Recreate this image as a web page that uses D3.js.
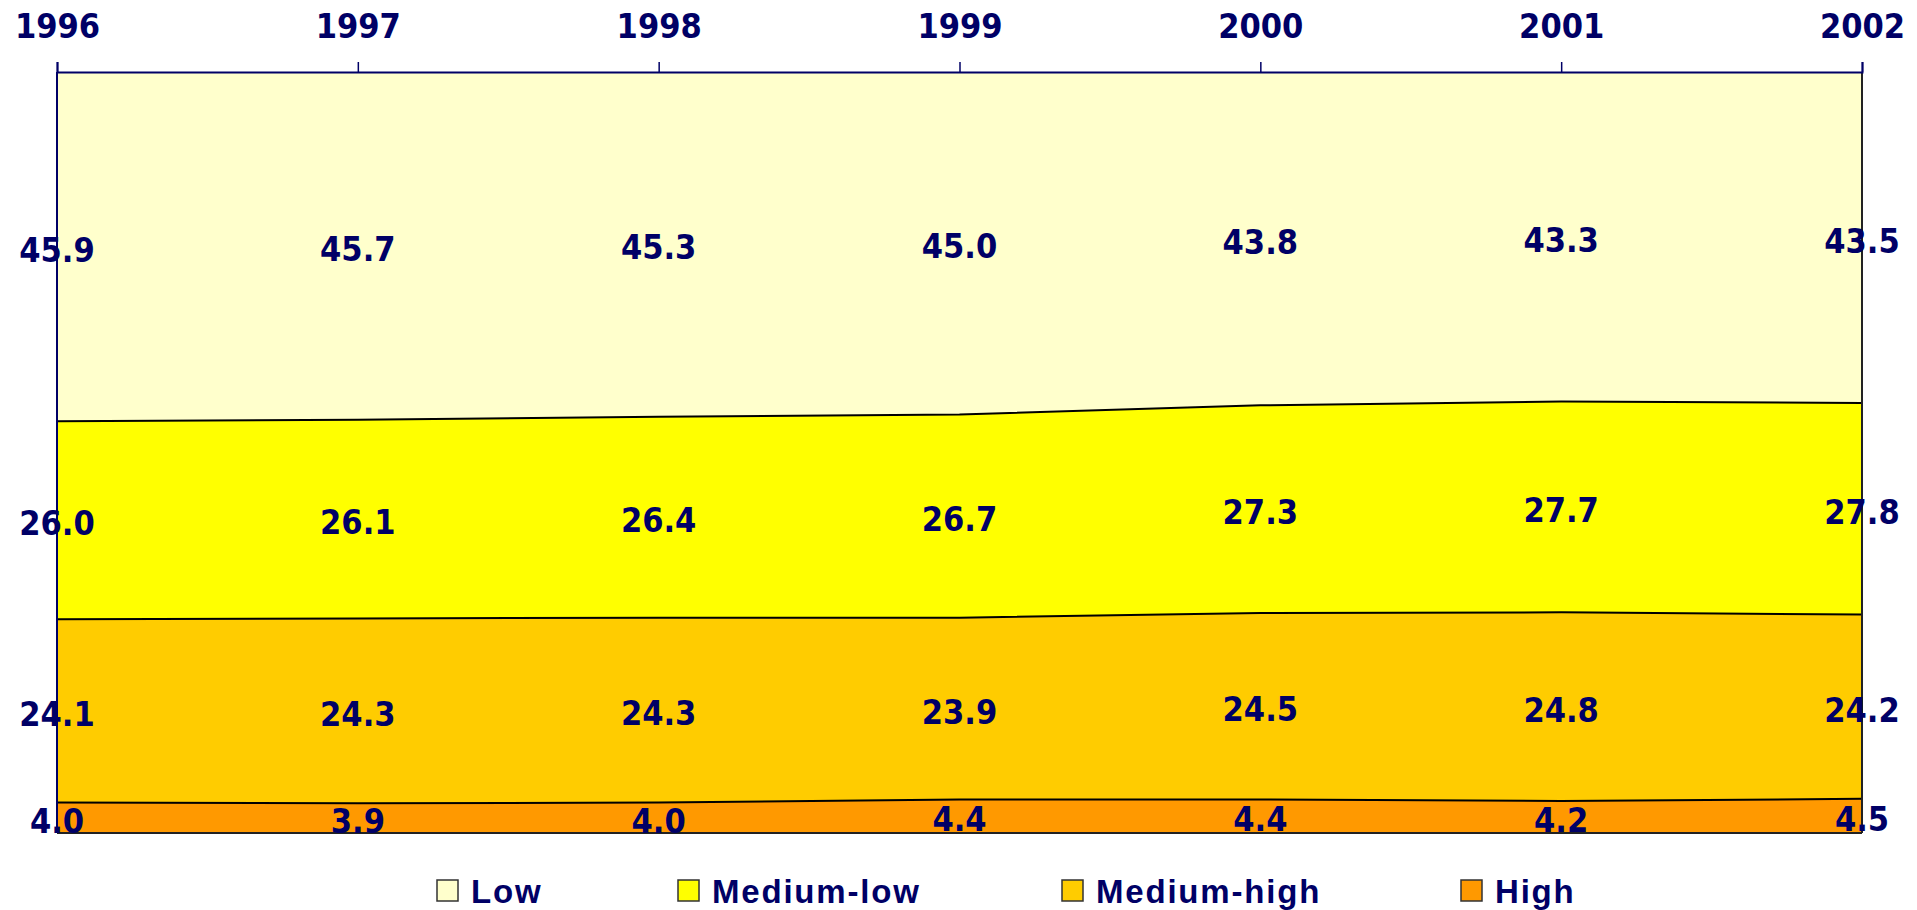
<!DOCTYPE html>
<html>
<head>
<meta charset="utf-8">
<script src="https://cdn.jsdelivr.net/npm/d3@7"></script>
<style>
  html, body { margin: 0; padding: 0; background: #fff; }
  svg { display: block; }
  .num { font-family: "DejaVu Sans Condensed", "DejaVu Sans", sans-serif; font-stretch: condensed; font-weight: bold; font-size: 34px; fill: #000066; }
  .leg { font-family: "Liberation Sans", Arial, sans-serif; font-weight: bold; font-size: 33px; letter-spacing: 1.8px; fill: #000066; }
</style>
</head>
<body>
<script>
// Shares by technology intensity, 1996-2002 (percent)
const years = [1996, 1997, 1998, 1999, 2000, 2001, 2002];
const low        = [45.9, 45.7, 45.3, 45.0, 43.8, 43.3, 43.5];
const mediumLow  = [26.0, 26.1, 26.4, 26.7, 27.3, 27.7, 27.8];
const mediumHigh = [24.1, 24.3, 24.3, 23.9, 24.5, 24.8, 24.2];
const high       = [4.0, 3.9, 4.0, 4.4, 4.4, 4.2, 4.5];

const seriesNames  = ["High", "Medium-high", "Medium-low", "Low"];   // stacking order, bottom to top
const seriesColors = ["#FF9900", "#FFCC00", "#FFFF00", "#FFFFCC"];
const legendOrder  = ["Low", "Medium-low", "Medium-high", "High"];

const W = 1917, H = 910;
const plotLeft = 57, plotRight = 1862, plotTop = 72, plotBottom = 833;

const rows = years.map((yr, i) => ({
  year: yr,
  "High": high[i],
  "Medium-high": mediumHigh[i],
  "Medium-low": mediumLow[i],
  "Low": low[i]
}));

const svg = d3.select("body").append("svg").attr("width", W).attr("height", H);

const x = d3.scaleLinear().domain([years[0], years[years.length - 1]]).range([plotLeft, plotRight]);
const y = d3.scaleLinear().domain([0, 100]).range([plotBottom, plotTop]);
const color = d3.scaleOrdinal(seriesNames, seriesColors);

const stacked = d3.stack().keys(seriesNames)(rows);

// filled bands
const area = d3.area()
  .x(d => x(d.data.year))
  .y0(d => y(d[0]))
  .y1(d => y(d[1]));

svg.append("g").selectAll("path")
  .data(stacked)
  .join("path")
  .attr("d", area)
  .attr("fill", d => color(d.key));

// boundary lines between bands
const edge = d3.line().x(d => x(d.data.year)).y(d => y(d[1]));
svg.append("g").selectAll("path")
  .data(stacked.slice(0, -1))
  .join("path")
  .attr("d", edge)
  .attr("fill", "none")
  .attr("stroke", "#000")
  .attr("stroke-width", 2);

// frame: bottom and right edges
svg.append("line").attr("x1", plotLeft).attr("x2", plotRight).attr("y1", plotBottom).attr("y2", plotBottom)
  .attr("stroke", "#222").attr("stroke-width", 2);
svg.append("line").attr("x1", plotRight).attr("x2", plotRight).attr("y1", plotTop).attr("y2", plotBottom)
  .attr("stroke", "#222").attr("stroke-width", 2);
// left edge
svg.append("line").attr("x1", plotLeft).attr("x2", plotLeft).attr("y1", plotTop).attr("y2", plotBottom)
  .attr("stroke", "#000066").attr("stroke-width", 2);

// top axis with year labels
const axis = d3.axisTop(x).tickValues(years).tickFormat(d3.format("d")).tickSize(10).tickPadding(24);
const gAxis = svg.append("g").attr("transform", `translate(0,${plotTop})`).call(axis);
gAxis.select(".domain").attr("stroke", "#000066").attr("stroke-width", 2);
gAxis.selectAll(".tick line").attr("stroke", "#000066").attr("stroke-width", 1.5);
gAxis.selectAll(".tick text").attr("class", "num").attr("fill", "#000066").attr("dy", "0");

// value labels centred in each band
const labels = svg.append("g");
stacked.forEach(layer => {
  labels.selectAll(null)
    .data(layer)
    .join("text")
    .attr("class", "num")
    .attr("text-anchor", "middle")
    .attr("x", d => x(d.data.year))
    .attr("y", d => (y(d[0]) + y(d[1])) / 2 + 15)
    .text(d => d3.format(".1f")(d.data[layer.key]));
});

// legend
const legendX = [437, 678, 1062, 1461];
const leg = svg.append("g").selectAll("g")
  .data(legendOrder)
  .join("g")
  .attr("transform", (d, i) => `translate(${legendX[i]},880)`);
leg.append("rect")
  .attr("width", 21).attr("height", 21)
  .attr("fill", d => color(d))
  .attr("stroke", "#333").attr("stroke-width", 1.5);
leg.append("text")
  .attr("class", "leg")
  .attr("x", 34).attr("y", 23)
  .text(d => d);
</script>
</body>
</html>
